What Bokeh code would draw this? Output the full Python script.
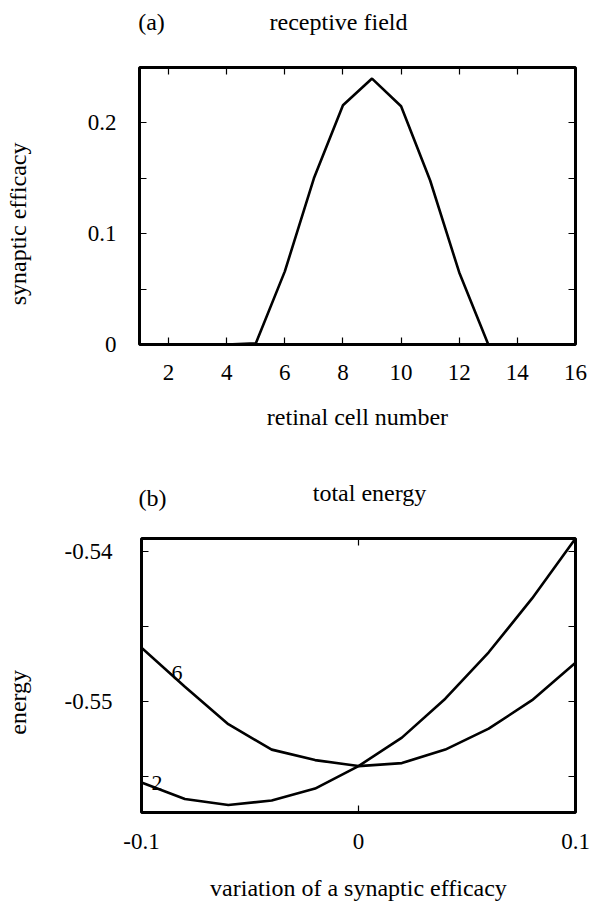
from math import pi
from bokeh.plotting import figure
from bokeh.layouts import column, row
from bokeh.models import LinearAxis, FixedTicker, Range1d, ColumnDataSource
from bokeh.embed import file_html
from bokeh.resources import INLINE
from bokeh.core.properties import value

FONT = "Liberation Serif"
TICK_SIZE = "23px"
LABEL_SIZE = "24px"

# ---------------- panel (a): receptive field ----------------
cells = [1, 2, 3, 4, 5, 6, 7, 8, 9, 10, 11, 12, 13, 14, 15, 16]
efficacy = [0, 0, 0, 0, 0.001, 0.066, 0.150, 0.216, 0.240, 0.215, 0.148, 0.065, 0, 0, 0, 0]
cell_ticks = [2, 4, 6, 8, 10, 12, 14, 16]
cell_tick_labels = ["2", "4", "6", "8", "10", "12", "14", "16"]
eff_ticks = [0, 0.1, 0.2]
eff_tick_labels = ["0", "0.1", "0.2"]
eff_minor = [0.05, 0.15]

# ---------------- panel (b): total energy ----------------
variation = [-0.1, -0.08, -0.06, -0.04, -0.02, 0.0, 0.02, 0.04, 0.06, 0.08, 0.1]
energy_cell6 = [-0.5464, -0.5490, -0.5515, -0.5532, -0.5539, -0.5543, -0.5541, -0.5532, -0.5518, -0.5499, -0.5474]
energy_cell2 = [-0.5554, -0.5565, -0.5569, -0.5566, -0.5558, -0.5543, -0.5524, -0.5498, -0.5467, -0.5431, -0.5391]
var_ticks = [-0.1, 0.0, 0.1]
var_tick_labels = ["-0.1", "0", "0.1"]
energy_ticks = [-0.55, -0.54]
energy_tick_labels = ["-0.55", "-0.54"]
energy_minor = [-0.555, -0.545]
curve_names = ["6", "2"]
curve_label_x = [-0.0836, -0.0928]
curve_label_y = [-0.5481, -0.5554]


def overrides(ticks, labels):
    d = {}
    for t, l in zip(ticks, labels):
        d[t] = l
        d[str(t)] = l
    return d


def style_axis(ax, ticks, minor, labels, standoff, show=True):
    ax.ticker = FixedTicker(ticks=ticks, minor_ticks=minor)
    ax.axis_line_color = None
    ax.major_tick_in = 7
    ax.major_tick_out = 0
    ax.minor_tick_in = 7
    ax.minor_tick_out = 0
    ax.major_tick_line_color = "black"
    ax.minor_tick_line_color = "black"
    ax.major_tick_line_width = 1.2
    ax.minor_tick_line_width = 1.2
    ax.major_label_text_font = FONT
    ax.major_label_text_font_size = TICK_SIZE
    ax.major_label_text_color = "black"
    ax.major_label_standoff = standoff
    ax.axis_label_text_font = FONT
    ax.axis_label_text_font_size = LABEL_SIZE
    ax.axis_label_text_font_style = "normal"
    ax.axis_label_text_color = "black"
    if show:
        ax.major_label_overrides = overrides(ticks, labels)
    else:
        ax.major_label_overrides = overrides(ticks, [""] * len(ticks))
        ax.major_label_standoff = 0


def text_box(w, h, xs, ys, texts, angle=0.0):
    """A bare helper canvas (pixel coordinates, y downwards) holding text."""
    f = figure(width=w, height=h, output_backend="svg", toolbar_location=None,
               x_range=Range1d(0, w), y_range=Range1d(h, 0),
               x_axis_type=None, y_axis_type=None, min_border=0)
    f.outline_line_color = None
    f.grid.visible = False
    f.background_fill_color = "white"
    f.border_fill_color = "white"
    f.text(x=xs, y=ys, text=texts, text_font=value(FONT), text_font_size=value(LABEL_SIZE),
           text_align="center", text_baseline="middle", text_color="black", angle=angle)
    return f


def make_fig(w, h, xr, yr, bl, br, bt, bb):
    p = figure(width=w, height=h, output_backend="svg", toolbar_location=None,
               x_range=xr, y_range=yr, min_border_left=bl, min_border_right=br,
               min_border_top=bt, min_border_bottom=bb)
    p.grid.visible = False
    p.outline_line_color = "black"
    p.outline_line_width = 3
    p.background_fill_color = "white"
    p.border_fill_color = "white"
    return p


# header of panel (a)
h1 = text_box(596, 45, [151, 338], [21, 21], ["(a)", "receptive field"])
l1 = text_box(40, 395, [17], [223], ["synaptic efficacy"], angle=pi / 2)

p1 = make_fig(556, 395, Range1d(1, 16), Range1d(0, 0.25), 99, 21, 22, 96)
p1.line(cells, efficacy, line_color="black", line_width=2.6)
style_axis(p1.xaxis[0], cell_ticks, [], cell_tick_labels, 20)
style_axis(p1.yaxis[0], eff_ticks, eff_minor, eff_tick_labels, 23)
p1.xaxis[0].axis_label = "retinal cell number"
p1.xaxis[0].axis_label_standoff = 21
top1 = LinearAxis()
style_axis(top1, cell_ticks, [], cell_tick_labels, 0, show=False)
p1.add_layout(top1, "above")
right1 = LinearAxis()
style_axis(right1, eff_ticks, eff_minor, eff_tick_labels, 0, show=False)
p1.add_layout(right1, "right")

# header of panel (b)
h2 = text_box(596, 80, [152, 369], [57, 52], ["(b)", "total energy"])
l2 = text_box(40, 383, [17], [229], ["energy"], angle=pi / 2)

p2 = make_fig(556, 383, Range1d(-0.1, 0.1), Range1d(-0.5574, -0.5391), 101, 21, 18, 90)
p2.line(variation, energy_cell6, line_color="black", line_width=2.6)
p2.line(variation, energy_cell2, line_color="black", line_width=2.6)
src = ColumnDataSource(dict(x=curve_label_x, y=curve_label_y, t=curve_names))
p2.text(x="x", y="y", text="t", source=src, text_font=value(FONT),
        text_font_size=value("22px"), text_align="center", text_baseline="middle",
        text_color="black")
style_axis(p2.xaxis[0], var_ticks, [], var_tick_labels, 21)
style_axis(p2.yaxis[0], energy_ticks, energy_minor, energy_tick_labels, 29)
p2.xaxis[0].axis_label = "variation of a synaptic efficacy"
p2.xaxis[0].axis_label_standoff = 23
top2 = LinearAxis()
style_axis(top2, var_ticks, [], var_tick_labels, 0, show=False)
p2.add_layout(top2, "above")
right2 = LinearAxis()
style_axis(right2, energy_ticks, energy_minor, energy_tick_labels, 0, show=False)
p2.add_layout(right2, "right")

layout = column(h1, row(l1, p1, spacing=0), h2, row(l2, p2, spacing=0), spacing=0)
open("out.html", "w").write(file_html(layout, INLINE))
